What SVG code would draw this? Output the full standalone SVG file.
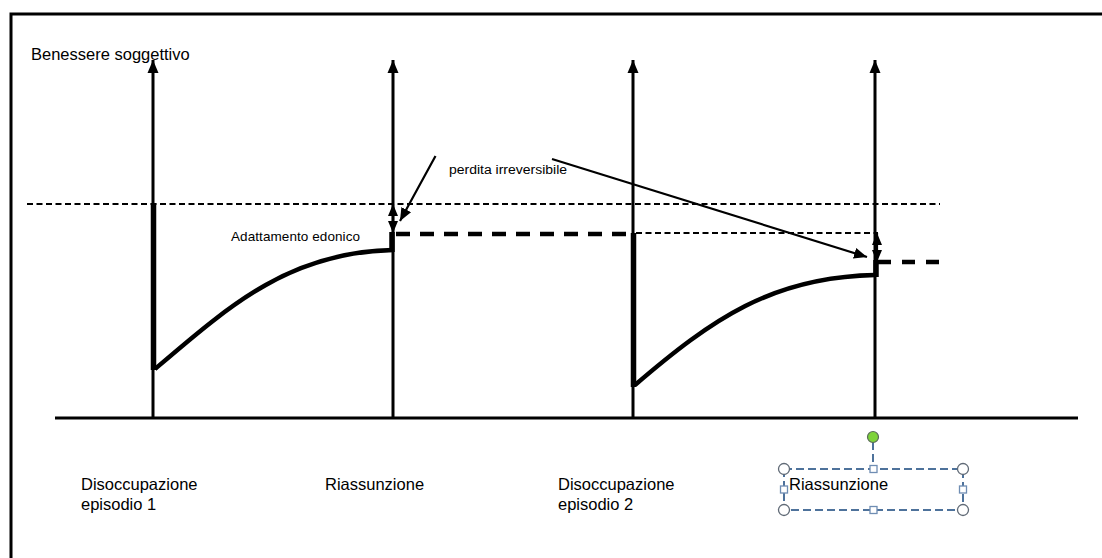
<svg xmlns="http://www.w3.org/2000/svg" width="1102" height="558" viewBox="0 0 1102 558">
<defs>
<marker id="ah" markerUnits="userSpaceOnUse" markerWidth="14" markerHeight="14" viewBox="0 0 14 14" refX="13" refY="7" orient="auto"><path d="M0,1.5 L13,7 L0,12.5 Z" fill="#000"/></marker>
<marker id="sh" markerUnits="userSpaceOnUse" markerWidth="13" markerHeight="13" viewBox="0 0 13 13" refX="12" refY="6.5" orient="auto"><path d="M0,1.5 L12,6.5 L0,11.5 Z" fill="#000"/></marker>
<style>
.t{font-family:"Liberation Sans",Arial,sans-serif;fill:#000}
.ax{stroke:#000;stroke-width:3;fill:none}
.thick{stroke:#000;stroke-width:5.5;fill:none}
.curve{stroke:#000;stroke-width:4.5;fill:none}
.thin{stroke:#000;stroke-width:1.8;stroke-dasharray:6 3.5;fill:none}
.tdash{stroke:#000;stroke-width:4.5;fill:none}
.pt{stroke:#000;stroke-width:2.2;fill:none}
.sel{stroke:#4e729b;stroke-width:2;stroke-dasharray:8 4;fill:none}
.hc{fill:#fff;stroke:#606a76;stroke-width:1.3}
.hs{fill:#fff;stroke:#6f8db3;stroke-width:1.3}
</style>
</defs>
<rect x="11" y="14" width="1100" height="560" fill="none" stroke="#000" stroke-width="3"/>
<g id="connectors">
<line class="ax" x1="55" y1="418" x2="1078" y2="418"/>
<line class="ax" x1="153" y1="418" x2="153" y2="60" marker-end="url(#ah)"/>
<line class="ax" x1="393" y1="418" x2="393" y2="60" marker-end="url(#ah)"/>
<line class="ax" x1="633" y1="418" x2="633" y2="60" marker-end="url(#ah)"/>
<line class="ax" x1="875" y1="418" x2="875" y2="60" marker-end="url(#ah)"/>
<line class="thin" x1="27" y1="204" x2="940" y2="204"/>
<line class="tdash" x1="396" y1="234" x2="633" y2="234" stroke-dasharray="14 10"/>
<line class="thin" x1="636" y1="233" x2="878" y2="233"/>
<line class="tdash" x1="878" y1="262" x2="940" y2="262" stroke-dasharray="13 11"/>
<line class="thick" x1="153.5" y1="203" x2="153.5" y2="370"/>
<path class="curve" d="M155,369 C230,305 290,252 393,250"/>
<line class="thick" x1="392" y1="252" x2="392" y2="232"/>
<line class="thick" x1="633.5" y1="233" x2="633.5" y2="387"/>
<path class="curve" d="M635,385 C712,319 772,277 875,275"/>
<line class="thick" x1="876" y1="277" x2="876" y2="260"/>
<line class="pt" x1="393" y1="218" x2="393" y2="204" marker-end="url(#sh)"/>
<line class="pt" x1="393" y1="218" x2="393" y2="233" marker-end="url(#sh)"/>
<line class="pt" x1="877" y1="247" x2="877" y2="233" marker-end="url(#sh)"/>
<line class="pt" x1="877" y1="247" x2="877" y2="262" marker-end="url(#sh)"/>
<polyline class="pt" points="435.5,156 418,188 400,221" marker-end="url(#ah)"/>
<line class="pt" x1="552" y1="159" x2="867" y2="257" marker-end="url(#ah)"/>
</g>
<g id="label-y"><text class="t" x="31" y="60" font-size="16.5">Benessere soggettivo</text></g>
<g id="label-perdita"><text class="t" x="449" y="174" font-size="12" textLength="118" lengthAdjust="spacingAndGlyphs">perdita irreversibile</text></g>
<g id="label-adattamento"><text class="t" x="231" y="241" font-size="13.5" textLength="129" lengthAdjust="spacing">Adattamento edonico</text></g>
<g id="label-dis1"><text class="t" x="81" y="490" font-size="16.5">Disoccupazione</text><text class="t" x="81" y="510" font-size="16.5">episodio 1</text></g>
<g id="label-ria1"><text class="t" x="325" y="490" font-size="16.5">Riassunzione</text></g>
<g id="label-dis2"><text class="t" x="558" y="490" font-size="16.5">Disoccupazione</text><text class="t" x="558" y="510" font-size="16.5">episodio 2</text></g>
<g id="label-ria2">
<line class="sel" x1="873" y1="442" x2="873" y2="469"/>
<rect class="sel" x="784" y="469" width="179" height="41"/>
<text class="t" x="789" y="490" font-size="16.5">Riassunzione</text>
<circle cx="873" cy="437" r="5.5" fill="#7ed33a" stroke="#5a6a5a" stroke-width="1.2"/>
<circle class="hc" cx="784" cy="469" r="5.5"/>
<circle class="hc" cx="963" cy="469" r="5.5"/>
<circle class="hc" cx="784" cy="510" r="5.5"/>
<circle class="hc" cx="963" cy="510" r="5.5"/>
<rect class="hs" x="870" y="465.5" width="7" height="7"/>
<rect class="hs" x="870" y="506.5" width="7" height="7"/>
<rect class="hs" x="780.5" y="486" width="7" height="7"/>
<rect class="hs" x="959.5" y="486" width="7" height="7"/>
</g>
</svg>
